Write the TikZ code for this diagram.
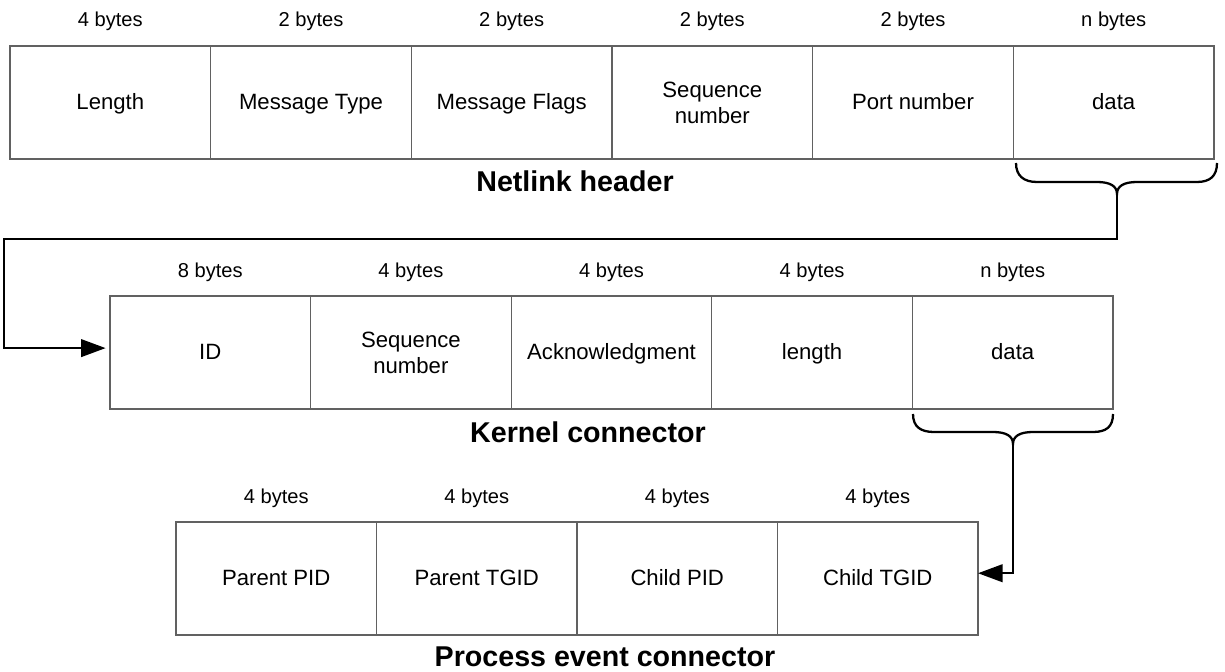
\documentclass[tikz,border=0pt]{standalone}
\usepackage{fontspec}
\setmainfont{Liberation Sans}
\usetikzlibrary{arrows.meta}
\begin{document}
\begin{tikzpicture}[x=0.02cm,y=-0.02cm,
  cell/.style={draw=black!62, line width=0.6pt, inner sep=0pt, outer sep=0pt,
    minimum height=2.26cm, align=center,
    font=\fontsize{12.6pt}{14.7pt}\selectfont},
  one/.style={text height=11pt, text depth=3pt},
  c6/.style={cell, minimum width=4.0133cm},
  c5/.style={cell, minimum width=4.012cm},
  c4/.style={cell, minimum width=4.01cm},
  size/.style={font=\fontsize{11.45pt}{13pt}\selectfont},
  title/.style={font=\fontsize{16.3pt}{19pt}\selectfont\bfseries},
  conn/.style={line width=1.3pt, line join=miter},
  link/.style={conn, -{Triangle[length=14pt, width=10pt]}},
]
\useasboundingbox (0,0) rectangle (1225,672);

% Netlink header
\node[c6,one] (n1) at (110.33,102.5) {Length};
\node[c6,one] (n2) at (311,102.5) {Message Type};
\node[c6,one] (n3) at (511.67,102.5) {Message Flags};
\node[c6] (n4) at (712.33,102.5) {Sequence\\number};
\node[c6,one] (n5) at (913,102.5) {Port number};
\node[c6,one] (n6) at (1113.67,102.5) {data};
\foreach \c/\t in {n1/4, n2/2, n3/2, n4/2, n5/2, n6/n}
  \node[size] (s\c) at (\c |- 0,21) {\t\ bytes};
\node[title] (tn) at (575,181) {Netlink header};

% Kernel connector
\node[c5,one] (k1) at (210.3,352.5) {ID};
\node[c5] (k2) at (410.9,352.5) {Sequence\\number};
\node[c5,one] (k3) at (611.5,352.5) {Acknowledgment};
\node[c5,one] (k4) at (812.1,352.5) {length};
\node[c5,one] (k5) at (1012.7,352.5) {data};
\foreach \c/\t in {k1/8, k2/4, k3/4, k4/4, k5/n}
  \node[size] (s\c) at (\c |- 0,272) {\t\ bytes};
\node[title] (tk) at (588,432) {Kernel connector};

% Process event connector
\node[c4,one] (p1) at (276.25,578.5) {Parent PID};
\node[c4,one] (p2) at (476.75,578.5) {Parent TGID};
\node[c4,one] (p3) at (677.25,578.5) {Child PID};
\node[c4,one] (p4) at (877.75,578.5) {Child TGID};
\foreach \c in {p1,p2,p3,p4}
  \node[size] (s\c) at (\c |- 0,498) {4 bytes};
\node[title] (tp) at (605,657) {Process event connector};

% braces under the data fields
\coordinate (b1) at (1117,194);
\draw[conn] (1016,163) .. controls (1016,176) and (1024,182) .. (1037,182)
  -- (1097,182) .. controls (1110,182) and (1117,186) .. (b1)
  .. controls (1117,186) and (1124,182) .. (1137,182)
  -- (1197,182) .. controls (1210,182) and (1217,176) .. (1217,163);
\coordinate (b2) at (1013,444);
\draw[conn] (913,414) .. controls (913,427) and (921,432) .. (934,432)
  -- (993,432) .. controls (1006,432) and (1013,436) .. (b2)
  .. controls (1013,436) and (1020,432) .. (1033,432)
  -- (1093,432) .. controls (1106,432) and (1113,427) .. (1113,414);

% connectors
\coordinate (turn1) at (4,239);
\draw[link, shorten >=2.5pt] (b1) |- (turn1) |- ([yshift=2.5pt]k1.west);
\draw[link] (b2) |- ([yshift=3pt]p4.east);
\end{tikzpicture}
\end{document}
